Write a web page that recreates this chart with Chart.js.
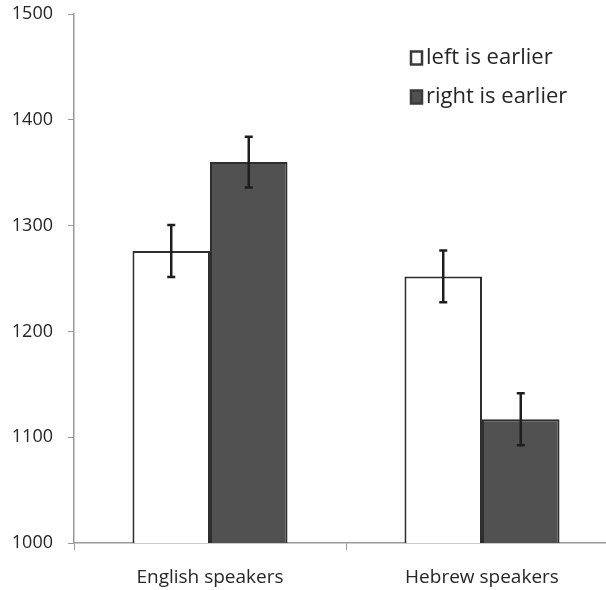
<!DOCTYPE html>
<html>
<head>
<meta charset="utf-8">
<script src="https://cdn.jsdelivr.net/npm/chart.js@4"></script>
<style>
  html, body { margin: 0; padding: 0; background: #fff; }
  #wrap { width: 606px; height: 590px; overflow: hidden; position: relative; }
  canvas { display: block; }
</style>
</head>
<body>
<div id="wrap"><canvas id="rt" width="620" height="590"></canvas></div>
<script>
// response times (ms) by group and which side came first
var groups = ['English speakers', 'Hebrew speakers'];
var seriesNames = ['left is earlier', 'right is earlier'];
var leftEarlier = [1276, 1252];
var rightEarlier = [1360, 1117];
var leftErr = [24.5, 24.5];
var rightErr = [24, 24.5];
var yTicks = [1000, 1100, 1200, 1300, 1400, 1500];

var FONT = '"Open Sans", sans-serif';
var INK = '#262626';
var DARK = '#515151';

// error bars on top of each bar, from the dataset's own err array
var errorBars = {
  id: 'errorBars',
  afterDatasetsDraw: function(chart) {
    var ctx = chart.ctx;
    var y = chart.scales.y;
    ctx.save();
    ctx.strokeStyle = '#1e1e1e';
    ctx.lineWidth = 2.5;
    chart.data.datasets.forEach(function(ds, i) {
      var meta = chart.getDatasetMeta(i);
      meta.data.forEach(function(bar, j) {
        var v = ds.data[j], e = ds.err[j];
        var top = y.getPixelForValue(v + e);
        var bot = y.getPixelForValue(v - e);
        ctx.beginPath();
        ctx.moveTo(bar.x, top); ctx.lineTo(bar.x, bot);
        ctx.moveTo(bar.x - 4, top); ctx.lineTo(bar.x + 4, top);
        ctx.moveTo(bar.x - 4, bot); ctx.lineTo(bar.x + 4, bot);
        ctx.stroke();
      });
    });
    ctx.restore();
  }
};

// legend drawn inside the plot, upper right
var innerLegend = {
  id: 'innerLegend',
  afterDraw: function(chart) {
    var ctx = chart.ctx;
    var a = chart.chartArea;
    var x0 = a.left + 337, y0 = a.top + 44, rowGap = 39;
    ctx.save();
    ctx.font = '22px ' + FONT;
    ctx.textBaseline = 'middle';
    chart.data.datasets.forEach(function(ds, i) {
      var yy = y0 + i * rowGap;
      ctx.fillStyle = ds.backgroundColor;
      ctx.fillRect(x0, yy - 6.5, 11, 13);
      ctx.strokeStyle = '#3a3a3a';
      ctx.lineWidth = 2.5;
      ctx.strokeRect(x0, yy - 6.5, 11, 13);
      ctx.fillStyle = INK;
      ctx.fillText(ds.label, x0 + 15, yy);
    });
    ctx.restore();
  }
};

new Chart(document.getElementById('rt'), {
  type: 'bar',
  data: {
    labels: groups,
    datasets: [
      { label: seriesNames[0], data: leftEarlier, err: leftErr,
        backgroundColor: '#ffffff', borderColor: '#2e2e2e', borderWidth: 2 },
      { label: seriesNames[1], data: rightEarlier, err: rightErr,
        backgroundColor: DARK, borderColor: '#2e2e2e', borderWidth: 2 }
    ]
  },
  options: {
    responsive: false,
    animation: false,
    devicePixelRatio: 1,
    categoryPercentage: 0.57,
    barPercentage: 1,
    layout: { padding: { left: 0, right: 2, top: 14, bottom: 0 } },
    plugins: { legend: { display: false }, tooltip: { enabled: false } },
    scales: {
      x: {
        afterFit: function(s) { s.height = 47; },
        grid: { offset: true, drawOnChartArea: false, drawTicks: true, tickLength: 7, color: '#9a9a9a' },
        border: { color: '#9a9a9a', width: 1.5 },
        ticks: { color: INK, font: { family: FONT, size: 19 }, padding: 16 }
      },
      y: {
        min: yTicks[0],
        max: yTicks[yTicks.length - 1],
        afterBuildTicks: function(s) { s.ticks = yTicks.map(function(v) { return { value: v }; }); },
        afterFit: function(s) { s.width = 74; s.paddingTop = 0; s.paddingBottom = 0; },
        grid: { drawOnChartArea: false, drawTicks: true, tickLength: 6, color: '#9a9a9a' },
        border: { color: '#9a9a9a', width: 1.5 },
        ticks: { color: INK, font: { family: FONT, size: 18 }, padding: 15,
                 callback: function(v) { return String(v); } }
      }
    }
  },
  plugins: [errorBars, innerLegend]
});
</script>
</body>
</html>
